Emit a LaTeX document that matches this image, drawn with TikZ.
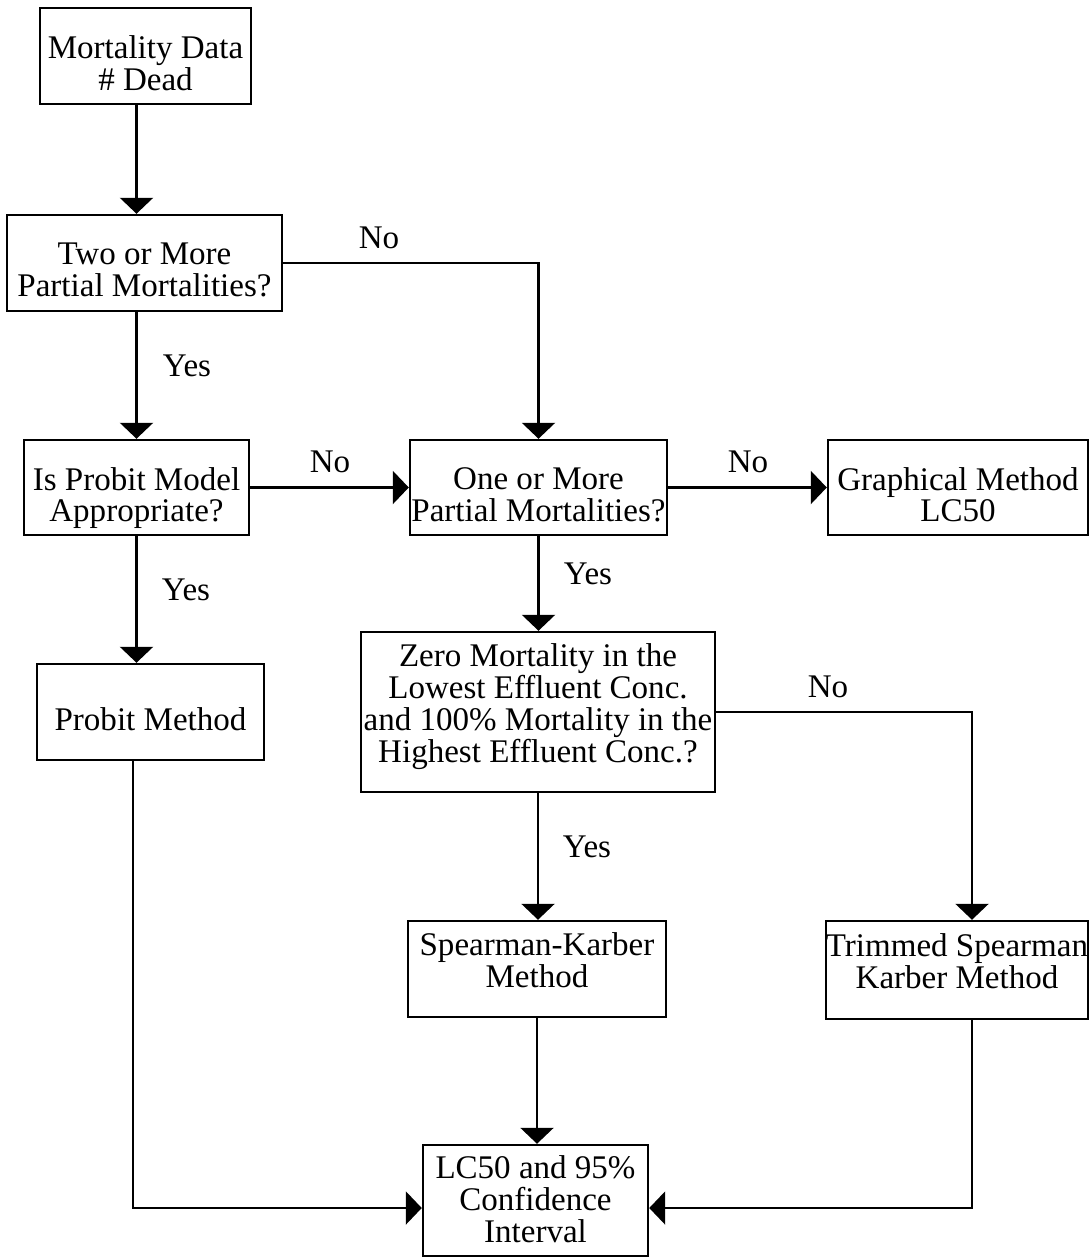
\documentclass[tikz,border=0pt]{standalone}
\usepackage{fontspec}
\setmainfont{Liberation Serif}
\usetikzlibrary{arrows.meta}
\newcommand{\boxtext}[2][-6.4pt]{\raisebox{#1}[\height][\depth]{\def\arraystretch{0.95}\begin{tabular}{@{}c@{}}#2\end{tabular}}}
\tikzset{
  box/.style={draw, line width=1.4pt, inner sep=0pt,
    font=\fontsize{18.8}{17.6}\selectfont},
  lbl/.style={font=\fontsize{18.8}{17.6}\selectfont},
  arr/.style={line width=1.4pt, -{Triangle[width=0.66cm,length=0.32cm]}}
}
\begin{document}
\begin{tikzpicture}[x=0.02cm,y=-0.02cm]
\useasboundingbox (0,0) rectangle (1089,1258);
% boxes
\node[box, minimum width=211*0.02cm, minimum height=96*0.02cm] (mort) at (145.5,56) {\boxtext{Mortality Data\\\# Dead}};
\node[box, minimum width=275*0.02cm, minimum height=96*0.02cm] (two) at (144.5,263) {\boxtext{Two or More\\Partial Mortalities?}};
\node[box, minimum width=225*0.02cm, minimum height=95*0.02cm] (isprobit) at (136.5,487.5) {\boxtext{Is Probit Model\\Appropriate?}};
\node[box, minimum width=257*0.02cm, minimum height=95*0.02cm] (one) at (538.5,487.5) {\boxtext{One or More\\Partial Mortalities?}};
\node[box, minimum width=260*0.02cm, minimum height=95*0.02cm] (graph) at (958,487.5) {\boxtext{Graphical Method\\LC50}};
\node[box, minimum width=227*0.02cm, minimum height=96*0.02cm] (probit) at (150.5,712) {\boxtext{Probit Method}};
\node[box, minimum width=354*0.02cm, minimum height=160*0.02cm] (zero) at (538,712) {\boxtext[2.5pt]{Zero Mortality in the\\Lowest Effluent Conc.\\and 100\% Mortality in the\\Highest Effluent Conc.?}};
\node[box, minimum width=258*0.02cm, minimum height=96*0.02cm] (sk) at (537,969) {\boxtext[2.5pt]{Spearman-Karber\\Method}};
\node[box, minimum width=260*0.02cm, minimum height=98*0.02cm] (trim) at (957,970) {\boxtext[2.5pt]{Trimmed Spearman\\Karber Method}};
\node[box, minimum width=225*0.02cm, minimum height=111*0.02cm] (lc) at (535.5,1200.5) {\boxtext[-1.7pt]{LC50 and 95\%\\Confidence\\Interval}};
% labels
\node[lbl] (no1) at (379,238) {No};
\node[lbl] (yes1) at (187,366) {Yes};
\node[lbl] (no2) at (330,462) {No};
\node[lbl] (no3) at (748,462) {No};
\node[lbl] (yes2) at (186,590) {Yes};
\node[lbl] (yes3) at (588,574) {Yes};
\node[lbl] (no4) at (828,687) {No};
\node[lbl] (yes4) at (587,847) {Yes};
% connectors
\coordinate (pcol) at (133,0);
\coordinate (tcol) at (972,0);
\coordinate (lcrow) at (0,1208);
\draw[arr] (mort.south -| isprobit.north) -- (two.north -| isprobit.north);
\draw[arr] (two.east) -| (one.north);
\draw[arr] (two.south -| isprobit.north) -- (isprobit.north);
\draw[arr] (isprobit) -- (one);
\draw[arr] (one) -- (graph);
\draw[arr] (isprobit.south) -- (isprobit.south |- probit.north);
\draw[arr] (one.south) -- (one.south |- zero.north);
\draw[arr] (zero.east) -| (tcol |- trim.north);
\draw[arr] (zero.south) -- (zero.south |- sk.north);
\draw[arr] (sk.south) -- (sk.south |- lc.north);
\draw[arr] (pcol |- probit.south) |- (lcrow -| lc.west);
\draw[arr] (tcol |- trim.south) |- (lcrow -| lc.east);
\end{tikzpicture}
\end{document}
